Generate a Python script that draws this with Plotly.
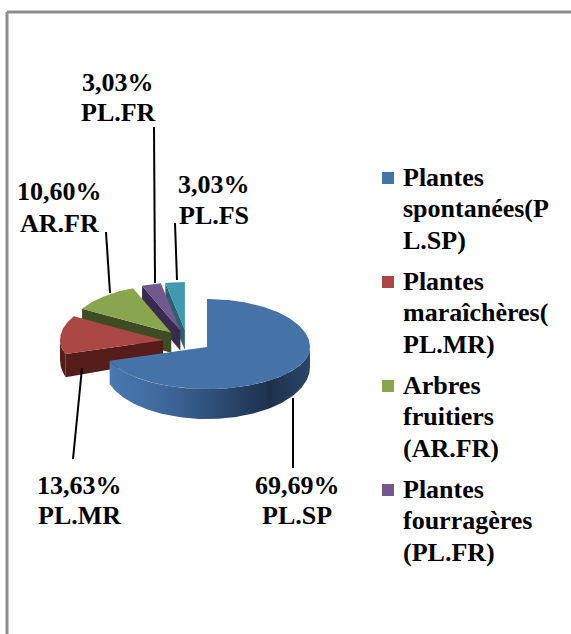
import math
import plotly.graph_objects as go

# ---------------- data ----------------
categories = ["PL.SP", "PL.MR", "AR.FR", "PL.FR", "PL.FS"]
values = [69.69, 13.63, 10.60, 3.03, 3.03]
legend_names = [
    ["Plantes", "spontanées(P", "L.SP)"],
    ["Plantes", "maraîchères(", "PL.MR)"],
    ["Arbres", "fruitiers", "(AR.FR)"],
    ["Plantes", "fourragères", "(PL.FR)"],
]

# ---------------- style / layout ----------------
top_colors = ["#4572A7", "#AA4643", "#89A54E", "#71588F", "#4198AF"]
side_colors = ["#2B4A70", "#561C1A", "#3E4C21", "#392B4B", "#2A6272"]
blue_wall_scale = [[0, "#4A79AF"], [0.25, "#3F6A9E"], [0.8, "#1D314D"], [1, "#2A4668"]]

W, H = 571, 634
CX, CY = 187.2, 341.3
RX, RYB, RYF = 103, 48, 42
DEPTH0, DEPTH_FRONT = 20, 10
EXPLODE = 0.236
FONT = "Times New Roman"
FS = 26

label_pos = {
    "PL.SP": (297, 485, 30, (293, 468), (293, 398)),
    "PL.MR": (79, 485, 30, (73, 459), (82, 368)),
    "AR.FR": (59, 191, 32, (106, 232), (110, 293)),
    "PL.FR": (118, 82, 30, (154, 127), (155, 283)),
    "PL.FS": (214, 184, 31, (175, 223), (177, 280)),
}
legend_x_box, legend_x_text = 388, 401
legend_y0, legend_step, legend_line = 177, 104, 31.5


def ry(t):
    return RYB if math.cos(t) > 0 else RYF


def depth(t):
    return DEPTH0 + DEPTH_FRONT * max(0.0, -math.cos(t))


def rim(vx, vy, deg, bottom=False):
    t = math.radians(deg)
    return vx + RX * math.sin(t), vy - ry(t) * math.cos(t) + (depth(t) if bottom else 0.0)


def arc(vx, vy, a, b, bottom=False):
    n = max(2, int(abs(b - a)) + 1)
    return [rim(vx, vy, a + (b - a) * k / (n - 1), bottom) for k in range(n)]


def poly(pts, color, gradient=None):
    xs = [p[0] for p in pts] + [pts[0][0]]
    ys = [p[1] for p in pts] + [pts[0][1]]
    kw = dict(x=xs, y=ys, mode="lines", fill="toself", line=dict(width=0, color=color),
              fillcolor=color, hoverinfo="skip", showlegend=False)
    if gradient is not None:
        kw["fillgradient"] = dict(type="horizontal", colorscale=gradient)
    return go.Scatter(**kw)


fig = go.Figure()

total = sum(values)
bounds = []
acc = 0.0
for v in values:
    a = acc / total * 360.0
    acc += v
    b = acc / total * 360.0
    bounds.append((a, b))

# back-to-front painting of the exploded 3-D slices
for i in [4, 3, 2, 1, 0]:
    a, b = bounds[i]
    m = math.radians((a + b) / 2)
    vx = CX + EXPLODE * RX * math.sin(m)
    vy = CY - EXPLODE * ry(m) * math.cos(m)
    for ang, vis in ((a, 180 < a < 360), (b, 0 < b < 180)):
        if vis:
            p, q = rim(vx, vy, ang), rim(vx, vy, ang, True)
            fig.add_trace(poly([(vx, vy), p, q, (vx, vy + DEPTH0)], side_colors[i]))
    lo, hi = max(a, 90), min(b, 270)
    if lo < hi:
        pts = arc(vx, vy, lo, hi) + arc(vx, vy, hi, lo, True)
        fig.add_trace(poly(pts, side_colors[i], blue_wall_scale if i == 0 else None))
    fig.add_trace(poly([(vx, vy)] + arc(vx, vy, a, b), top_colors[i]))

shapes = []
annotations = []

# chart frame (top and left edges visible)
shapes.append(dict(type="line", x0=7, y0=12, x1=W + 10, y1=12, xref="x", yref="y",
                   line=dict(color="#8E8E8E", width=3)))
shapes.append(dict(type="line", x0=7, y0=12, x1=7, y1=H + 10, xref="x", yref="y",
                   line=dict(color="#8E8E8E", width=3)))

label_font = dict(family=FONT, size=FS, color="black", weight="bold")

# data labels with leader lines
for cat, v in zip(categories, values):
    x, y, dy, p0, p1 = label_pos[cat]
    pct = f"{v:.2f}".replace(".", ",") + "%"
    for k, txt in enumerate([pct, cat]):
        annotations.append(dict(x=x, y=y + k * dy, xref="x", yref="y", text=txt,
                                showarrow=False, xanchor="center", yanchor="middle",
                                font=label_font))
    shapes.append(dict(type="line", x0=p0[0], y0=p0[1], x1=p1[0], y1=p1[1], xref="x", yref="y",
                       line=dict(color="black", width=2)))

# legend
for j, lines in enumerate(legend_names):
    y0 = legend_y0 + j * legend_step
    shapes.append(dict(type="rect", x0=legend_x_box - 6, x1=legend_x_box + 6,
                       y0=y0 - 5, y1=y0 + 7, xref="x", yref="y",
                       fillcolor=top_colors[j], line=dict(width=0)))
    for k, txt in enumerate(lines):
        annotations.append(dict(x=legend_x_text, y=y0 + k * legend_line, xref="x", yref="y",
                                text=txt, showarrow=False, xanchor="left",
                                yanchor="middle", font=label_font))

fig.update_layout(
    width=W, height=H, autosize=False,
    margin=dict(l=0, r=0, t=0, b=0, pad=0),
    paper_bgcolor="white", plot_bgcolor="white",
    xaxis=dict(range=[0, W], visible=False, fixedrange=True),
    yaxis=dict(range=[H, 0], visible=False, fixedrange=True),
    shapes=shapes, annotations=annotations,
)

fig.write_html("out.html", config={"displayModeBar": False},
               post_script="document.body.style.margin='0';document.body.style.overflow='hidden';")
